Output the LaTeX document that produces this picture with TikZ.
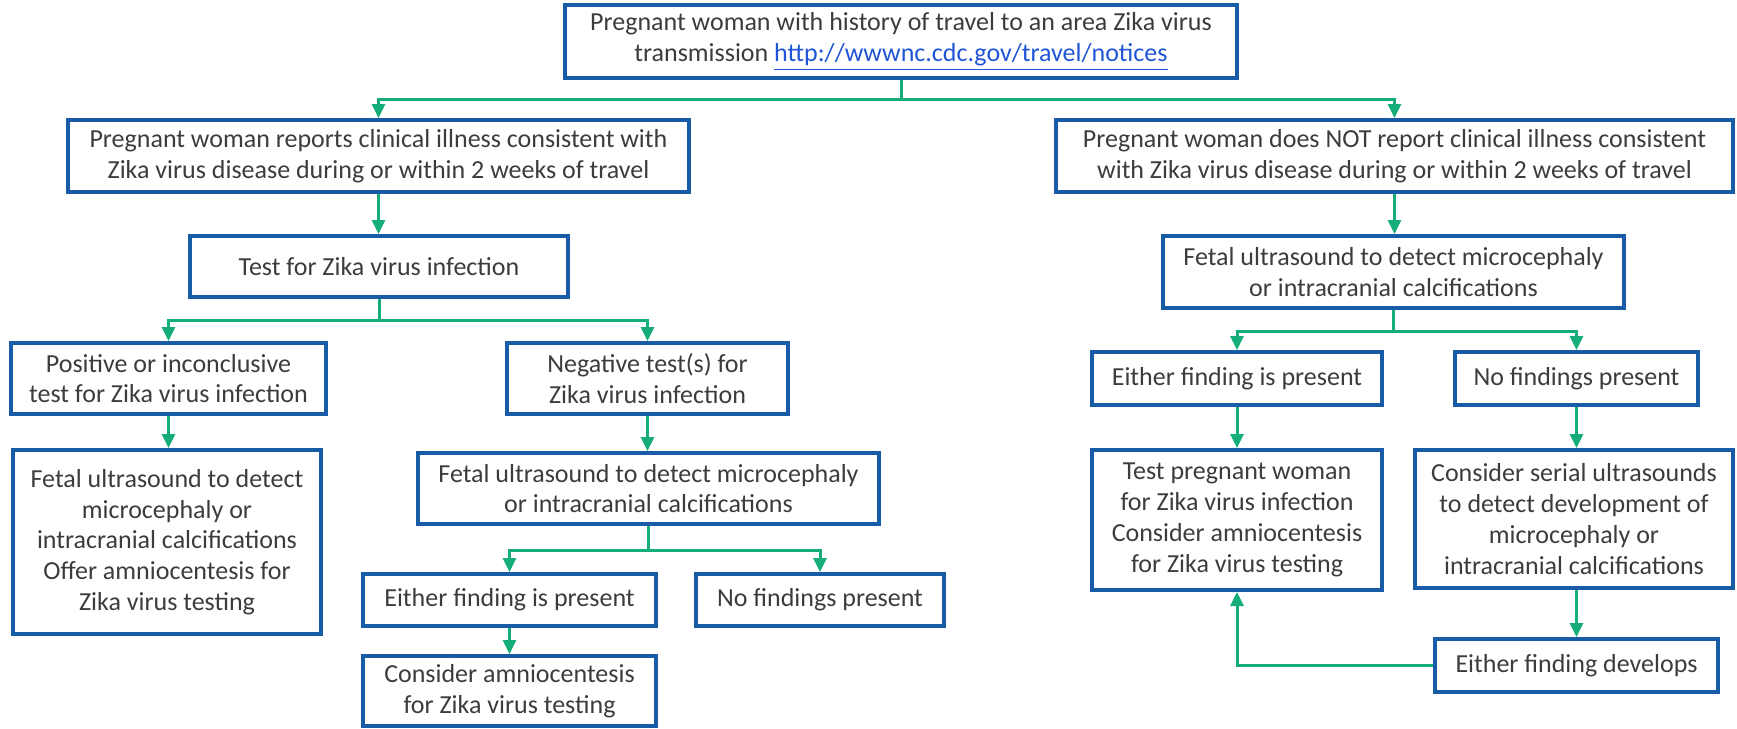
\documentclass[tikz,border=0pt]{standalone}
\usepackage{fontspec}
\setmainfont{Carlito}
\usetikzlibrary{arrows.meta,positioning,calc}
\definecolor{boxblue}{HTML}{185CA8}
\definecolor{arrgreen}{HTML}{15AD78}
\definecolor{txtgray}{HTML}{3C3C3C}
\definecolor{linkblue}{HTML}{1F55D6}
\newcommand{\weblink}[1]{\textcolor{linkblue}{\underline{#1}}}

\begin{document}
\begin{tikzpicture}[x=0.5pt, y=-0.5pt,
    box/.style={draw=boxblue, line width=2pt, text=txtgray, align=center,
      inner sep=0pt, font=\fontsize{13}{15.4}\selectfont},
    arr/.style={draw=arrgreen, line width=1.5pt,
      -{Triangle[length=7pt,width=6.5pt]}}]
    \useasboundingbox (0,0) rectangle (1737,729);
    % left branch
    \node[box, minimum width=336pt, minimum height=36.5pt] (top) at (901,41.5) {Pregnant woman with history of travel to an area Zika virus\\ transmission \weblink{http://wwwnc.cdc.gov/travel/notices}};
    \node[box, minimum width=310.5pt, minimum height=36pt] (ill) at (378.5,156) {Pregnant woman reports clinical illness consistent with\\ Zika virus disease during or within 2 weeks of travel};
    \node[box, minimum width=189pt, minimum height=30.5pt] (test) at (379,266.5) {Test for Zika virus infection};
    \node[box, minimum width=157.5pt, minimum height=35.5pt] (pos) at (168.5,378.5) {Positive or inconclusive\\ test for Zika virus infection};
    \node[box, minimum width=140.5pt, minimum height=35.5pt] (neg) at (647.5,378.5) {Negative test(s) for\\ Zika virus infection};
    \node[box, minimum width=154pt, minimum height=92pt] (posus) at (167,542) {Fetal ultrasound to detect\\ microcephaly or\\ intracranial calcifications\\ Offer amniocentesis for\\ Zika virus testing};
    \node[box, minimum width=230.5pt, minimum height=35.5pt] (negus) at (648.5,488.5) {Fetal ultrasound to detect microcephaly\\ or intracranial calcifications};
    \node[box, minimum width=146.5pt, minimum height=26pt] (negfind) at (509.5,600) {Either finding is present};
    \node[box, minimum width=124pt, minimum height=26pt] (negnone) at (820,600) {No findings present};
    \node[box, minimum width=146.5pt, minimum height=35pt] (negamnio) at (509.5,691) {Consider amniocentesis\\ for Zika virus testing};
    % right branch
    \node[box, minimum width=338.5pt, minimum height=36pt] (noill) at (1394.5,156) {Pregnant woman does NOT report clinical illness consistent\\ with Zika virus disease during or within 2 weeks of travel};
    \node[box, minimum width=230.5pt, minimum height=36pt] (noillus) at (1393.5,272) {Fetal ultrasound to detect microcephaly\\ or intracranial calcifications};
    \node[box, minimum width=145pt, minimum height=26.5pt] (rfind) at (1237,378.5) {Either finding is present};
    \node[box, minimum width=121.5pt, minimum height=26.5pt] (rnone) at (1576.5,378.5) {No findings present};
    \node[box, minimum width=145pt, minimum height=70pt] (rtest) at (1237,520) {Test pregnant woman\\ for Zika virus infection\\ Consider amniocentesis\\ for Zika virus testing};
    \node[box, minimum width=159pt, minimum height=69pt] (serial) at (1574,519) {Consider serial ultrasounds\\ to detect development of\\ microcephaly or\\ intracranial calcifications};
    \node[box, minimum width=141.5pt, minimum height=26.5pt] (develops) at (1576.5,665.5) {Either finding develops};
    % connectors
    \draw[arr] (top.south) -- ++(0,19) -| (ill.north);
    \draw[arr] (top.south) -- ++(0,19) -| (noill.north);
    \draw[arr] (ill.south) -- (ill.south |- test.north);
    \draw[arr] (test.south) -- ++(0,21) -| (pos.north);
    \draw[arr] (test.south) -- ++(0,21) -| (neg.north);
    \draw[arr] (pos.south) -- (pos.south |- posus.north);
    \draw[arr] (neg.south) -- (neg.south |- negus.north);
    \draw[arr] (negus.south) -- ++(0,24) -| (negfind.north);
    \draw[arr] (negus.south) -- ++(0,24) -| (negnone.north);
    \draw[arr] (negfind.south) -- (negamnio.north);
    \draw[arr] (noill.south) -- (noill.south |- noillus.north);
    \draw[arr] (noillus.south) -- ++(0,21) -| (rfind.north);
    \draw[arr] (noillus.south) -- ++(0,21) -| (rnone.north);
    \draw[arr] (rfind.south) -- (rtest.north);
    \draw[arr] (rnone.south) -- (rnone.south |- serial.north);
    \draw[arr] (develops.north |- serial.south) -- (develops.north);
    \draw[arr] (develops.west) -| (rtest.south);
\end{tikzpicture}
\end{document}
